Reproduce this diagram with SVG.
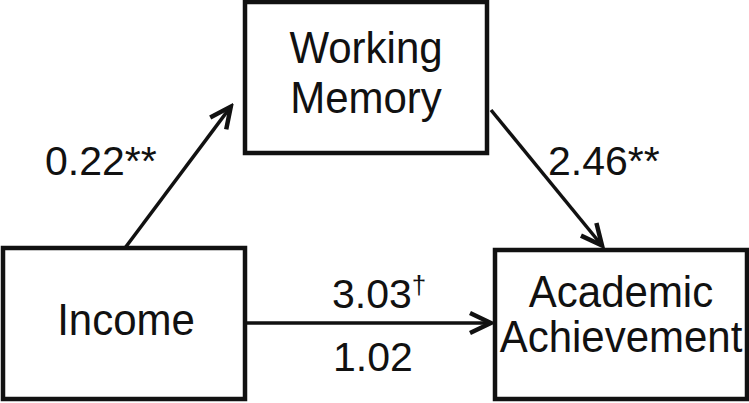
<svg xmlns="http://www.w3.org/2000/svg" width="749" height="403" viewBox="0 0 749 403">
<style>
.box{fill:#fff;stroke:#111;stroke-width:4.5}
.t{font-family:"Liberation Sans",Arial,sans-serif;font-size:42px;fill:#111;text-anchor:middle}
.lb{font-family:"Liberation Sans",Arial,sans-serif;font-size:41px;fill:#111}
.c{stroke:#111;stroke-width:3.5;fill:none}
</style>
<defs>
<marker id="ah" markerUnits="userSpaceOnUse" viewBox="-26 -14 30 28" refX="0" refY="0" markerWidth="30" markerHeight="28" orient="auto">
<path d="M-21,-10 L0,0 L-21,10" fill="none" stroke="#111" stroke-width="4.5" stroke-linejoin="miter"/>
</marker>
</defs>
<rect width="749" height="403" fill="#fff"/>
<g id="connectors">
<line class="c" x1="125" y1="248" x2="230.8" y2="106.6" marker-end="url(#ah)"/>
<line class="c" x1="491" y1="110" x2="602" y2="245.5" marker-end="url(#ah)"/>
<line class="c" x1="247" y1="323" x2="491" y2="323" marker-end="url(#ah)"/>
</g>
<g id="working-memory">
<rect class="box" x="245" y="2" width="242" height="151"/>
<text class="t" transform="translate(366,63) scale(1,1.06)">Working</text>
<text class="t" transform="translate(366,113) scale(1,1.06)">Memory</text>
</g>
<g id="income">
<rect class="box" x="3" y="248" width="242" height="151"/>
<text class="t" transform="translate(126,335) scale(1,1.06)">Income</text>
</g>
<g id="academic-achievement">
<rect class="box" x="495" y="250" width="252" height="149"/>
<text class="t" transform="translate(621,307) scale(1,1.06)">Academic</text>
<text class="t" transform="translate(621,352) scale(1,1.06)">Achievement</text>
</g>
<g id="labels">
<text class="lb" x="45" y="175">0.22**</text>
<text class="lb" x="548" y="175">2.46**</text>
<text class="lb" x="332" y="308">3.03<tspan font-size="26" dy="-14">†</tspan></text>
<text class="lb" x="333" y="371">1.02</text>
</g>
</svg>
